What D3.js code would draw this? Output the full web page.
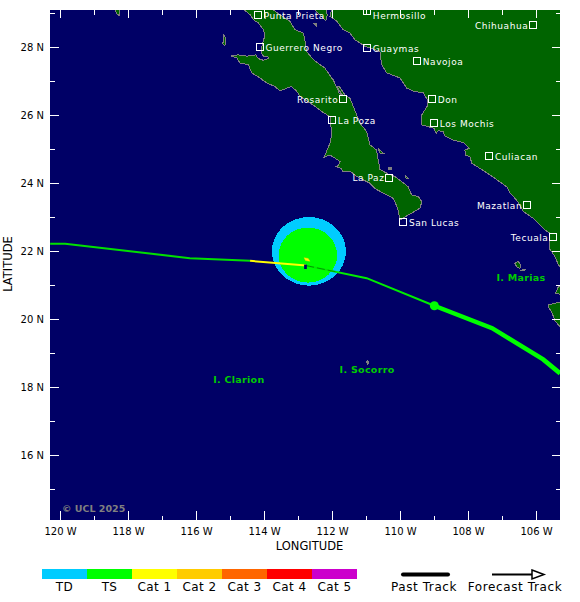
<!DOCTYPE html>
<html>
<head>
<meta charset="utf-8">
<script src="https://cdnjs.cloudflare.com/ajax/libs/d3/7.8.5/d3.min.js"></script>
<style>
    body { margin: 0; background: #fff; }
    svg { display: block; }
    text { font-family: "DejaVu Sans", sans-serif; }
</style>
</head>
<body>
<svg id="chart" width="580" height="602"></svg>
<script>
// coastlines, [lon, lat]
const baja = [[-114.58,29.09],[-114.41,28.95],[-114.31,28.80],[-114.17,28.71],[-114.02,28.51],[-113.97,28.36],[-114.02,28.17],[-114.09,27.89],[-114.05,27.77],[-113.99,27.71],[-113.89,27.73],[-113.87,27.66],[-114.02,27.61],[-114.17,27.66],[-114.24,27.77],[-114.51,27.73],[-114.76,27.77],[-114.97,27.74],[-114.80,27.68],[-114.71,27.53],[-114.46,27.48],[-114.36,27.24],[-114.12,27.09],[-113.92,26.94],[-113.68,26.84],[-113.53,26.71],[-113.19,26.84],[-113.04,26.70],[-112.94,26.55],[-112.55,26.29],[-112.30,26.10],[-112.06,25.95],[-112.03,25.66],[-112.01,25.41],[-112.06,25.17],[-112.23,24.76],[-112.06,24.82],[-111.91,24.73],[-111.76,24.63],[-111.83,24.50],[-111.89,24.48],[-111.74,24.43],[-111.67,24.33],[-111.47,24.35],[-111.27,24.19],[-110.88,23.99],[-110.74,23.84],[-110.49,23.70],[-110.20,23.55],[-110.07,23.26],[-110.00,22.91],[-109.93,22.96],[-109.66,23.11],[-109.41,23.26],[-109.36,23.45],[-109.46,23.60],[-109.66,23.65],[-109.76,23.89],[-109.95,24.04],[-110.15,24.19],[-110.34,24.26],[-110.59,24.40],[-110.64,24.68],[-110.69,24.97],[-110.88,25.12],[-110.98,25.51],[-111.18,25.76],[-111.37,26.24],[-111.47,26.49],[-111.62,26.59],[-111.79,26.85],[-111.85,26.82],[-111.68,26.56],[-111.79,26.65],[-111.96,27.03],[-112.01,27.09],[-112.21,27.38],[-112.55,27.63],[-112.75,27.87],[-112.79,28.17],[-112.84,28.41],[-113.09,28.51],[-113.24,28.76],[-113.53,28.95],[-113.73,29.09]]
const mainland = [[-112.01,29.09],[-112.06,28.90],[-111.86,28.76],[-111.67,28.51],[-111.47,28.41],[-111.32,28.21],[-111.03,28.02],[-110.59,27.87],[-110.54,27.48],[-110.39,27.24],[-110.00,27.09],[-109.80,26.79],[-109.61,26.70],[-109.31,26.65],[-109.20,26.45],[-109.20,26.26],[-109.36,26.00],[-109.36,25.71],[-109.00,25.61],[-108.94,25.46],[-108.87,25.54],[-108.73,25.51],[-108.68,25.38],[-108.43,25.26],[-108.14,25.19],[-107.96,25.02],[-108.09,24.97],[-108.07,24.82],[-107.94,24.77],[-107.89,24.58],[-107.60,24.40],[-107.21,24.14],[-106.84,23.87],[-106.76,23.70],[-106.57,23.50],[-106.37,23.16],[-106.08,22.96],[-105.74,22.62],[-105.59,22.52],[-105.61,22.08],[-105.44,21.83],[-105.34,21.59],[-105.29,21.54],[-105.29,29.09]]
const nayarit = [[-105.43,20.76],[-105.34,20.95],[-105.29,20.98],[-105.29,20.73]]
const jalisco = [[-105.64,20.41],[-105.34,20.49],[-105.29,20.49],[-105.29,19.77],[-105.44,19.94],[-105.54,20.21],[-105.64,20.36]]
const islands = [
    [[-112.50,29.09],[-112.35,28.94],[-112.18,28.77],[-112.14,28.94],[-112.18,29.09]],
    [[-106.62,21.64],[-106.52,21.69],[-106.45,21.59],[-106.47,21.49],[-106.57,21.54]],
    [[-115.18,28.35],[-115.12,28.26],[-115.15,28.03],[-115.21,28.09]],
    [[-118.38,29.09],[-118.24,29.09],[-118.24,28.91],[-118.32,28.97]],
    [[-110.64,25.02],[-110.49,24.88],[-110.59,24.88]],
    [[-109.85,24.24],[-109.74,24.12],[-109.82,24.15]]
]
const rocks = [
    [[-106.47,21.43],[-106.32,21.46],[-106.36,21.42]],
    [[-110.96,18.78],[-110.91,18.74],[-110.95,18.68],[-110.98,18.74]],
    [[-110.35,24.46],[-110.26,24.46],[-110.26,24.41],[-110.35,24.41]],
    [[-112.53,28.69],[-112.47,28.69],[-112.47,28.63]]
]

// storm track
const pastTD = [[-120.29,22.21],[-119.85,22.21],[-116.18,21.79],[-114.41,21.71]]
const pastCat1 = [[-114.41,21.71],[-112.76,21.57]]
const forecastThin = [[-112.76,21.57],[-110.98,21.20],[-108.99,20.39]]
const forecastThick = [[-108.99,20.39],[-107.29,19.73],[-105.79,18.81],[-105.29,18.40]]
const turnPoint = [-108.99, 20.39]
const innerDash = [[-112.76,21.57],[-111.85,21.38]]
const yellowBlob = [[-112.82,21.80],[-112.70,21.78],[-112.65,21.70],[-112.78,21.72]]
const stormMark = [[-112.82,21.60],[-112.74,21.60],[-112.74,21.47],[-112.82,21.47]]

// wind radii, degrees
const tdCircle = {lon: -112.68, lat: 21.99, rLon: 1.09, rLat: 1.01}
const tsCircle = {lon: -112.71, lat: 21.88, rLon: 0.86, rLat: 0.81}

const cityNames = ["Punta Prieta", "Hermosillo", "Chihuahua", "Guerrero Negro", "Guaymas", "Navojoa", "Rosarito", "Don", "La Poza", "Los Mochis", "Culiacan", "La Paz", "Mazatlan", "San Lucas", "Tecuala"]
const cityLon = [-114.17, -110.96, -106.08, -114.12, -110.96, -109.49, -111.67, -109.05, -111.99, -108.99, -107.37, -110.31, -106.26, -109.90, -105.49]
const cityLat = [28.93, 29.06, 28.64, 27.99, 27.96, 27.58, 26.47, 26.47, 25.84, 25.76, 24.79, 24.15, 23.34, 22.85, 22.40]
const citySide = ["r", "r", "l", "r", "r", "r", "l", "r", "r", "r", "r", "l", "l", "r", "l"]

const islandNames = ["I. Clarion", "I. Socorro", "I. Marias"]
const islandLon = [-114.74, -110.97, -106.44]
const islandLat = [18.21, 18.50, 21.21]

const lonMajor = [-120, -118, -116, -114, -112, -110, -108, -106]
const lonMinor = [-119, -117, -115, -113, -111, -109, -107]
const latMajor = [16, 18, 20, 22, 24, 26, 28]
const latMinor = [15, 17, 19, 21, 23, 25, 27, 29]

const legendNames = ["TD", "TS", "Cat 1", "Cat 2", "Cat 3", "Cat 4", "Cat 5"]
const legendColors = ["#00ccff", "#00ff00", "#ffff00", "#ffcc00", "#ff6600", "#ff0000", "#cc00cc"]

const svg = d3.select("#chart")

const x = d3.scaleLinear().domain([-120.294, -105.294]).range([50, 560])
const y = d3.scaleLinear().domain([14.088, 29.088]).range([520, 10])
const line = d3.line().x(d => x(d[0])).y(d => y(d[1]))

svg.append("clipPath").attr("id", "frame")
    .append("rect").attr("x", 50).attr("y", 10).attr("width", 510).attr("height", 510)

const map = svg.append("g").attr("clip-path", "url(#frame)")

map.append("rect").attr("x", 50).attr("y", 10).attr("width", 510).attr("height", 510)
    .attr("fill", "#000066")

// land
map.selectAll("path.land")
    .data([baja, mainland, nayarit, jalisco, ...islands])
    .enter().append("path")
    .attr("class", "land")
    .attr("d", d => line(d) + "Z")
    .attr("fill", "#006400")
    .attr("stroke", "#808080")
    .attr("stroke-width", 1)
    .attr("shape-rendering", "crispEdges")

map.selectAll("path.rock")
    .data(rocks)
    .enter().append("path")
    .attr("class", "rock")
    .attr("d", d => line(d) + "Z")
    .attr("fill", "#808080")
    .attr("stroke", "#808080")
    .attr("shape-rendering", "crispEdges")

// wind field
map.selectAll("ellipse")
    .data([[tdCircle, "#00ccff"], [tsCircle, "#00ff00"]])
    .enter().append("ellipse")
    .attr("cx", d => x(d[0].lon))
    .attr("cy", d => y(d[0].lat))
    .attr("rx", d => x(d[0].lon + d[0].rLon) - x(d[0].lon))
    .attr("ry", d => y(d[0].lat - d[0].rLat) - y(d[0].lat))
    .attr("fill", d => d[1])
    .attr("shape-rendering", "crispEdges")

// track
function drawTrack(points, color, width, dash) {
    map.append("path")
        .attr("d", line(points))
        .attr("fill", "none")
        .attr("stroke", color)
        .attr("stroke-width", width)
        .attr("stroke-dasharray", dash || null)
}
drawTrack(pastTD, "#00e000", 2)
drawTrack(pastCat1, "#ffff00", 2)
drawTrack(forecastThin, "#00ee00", 2)
drawTrack(forecastThick, "#00ff00", 4.5)
drawTrack(innerDash, "#009900", 1, "8,3")

map.append("circle")
    .attr("cx", x(turnPoint[0]))
    .attr("cy", y(turnPoint[1]))
    .attr("r", 4.5)
    .attr("fill", "#00ff00")

map.append("path").attr("d", line(yellowBlob) + "Z").attr("fill", "#ffff00").attr("stroke", "#ffcc00").attr("stroke-width", 0.5)
map.append("path").attr("d", line(stormMark) + "Z").attr("fill", "#000066")

// cities
cityNames.forEach((name, i) => {
    const cx = x(cityLon[i])
    const cy = y(cityLat[i])
    map.append("rect")
        .attr("x", Math.round(cx) - 3.5)
        .attr("y", Math.round(cy) - 3.5)
        .attr("width", 7)
        .attr("height", 7)
        .attr("fill", "none")
        .attr("stroke", "#fff")
        .attr("stroke-width", 1)
        .attr("shape-rendering", "crispEdges")
    map.append("text")
        .attr("x", citySide[i] == "r" ? cx + 5.5 : cx - 5)
        .attr("y", Math.max(cy, 15) + 3.5)
        .attr("text-anchor", citySide[i] == "r" ? "start" : "end")
        .attr("fill", "#fff")
        .style("font-size", "9px")
        .style("letter-spacing", "0.55px")
        .text(name)
})

islandNames.forEach((name, i) => {
    map.append("text")
        .attr("x", x(islandLon[i]))
        .attr("y", y(islandLat[i]) + 3.5)
        .attr("text-anchor", "middle")
        .attr("fill", "#00cc00")
        .style("font-size", "9.5px")
        .style("font-weight", "bold")
        .style("letter-spacing", "0.3px")
        .text(name)
})

map.append("text")
    .attr("x", 62)
    .attr("y", 511.5)
    .attr("fill", "#808080")
    .style("font-size", "9.5px")
    .style("font-weight", "bold")
    .text("© UCL 2025")

// axes, ticks point into the map
function styleAxis(g) {
    g.select(".domain").remove()
    g.selectAll("line").attr("stroke", "#fff").attr("shape-rendering", "crispEdges")
    g.selectAll("text").attr("fill", "#000").style("font-size", "10px").style("font-family", "DejaVu Sans")
}
const lonLabel = d => Math.abs(d) + " W"
const latLabel = d => d + " N"

svg.append("g").attr("transform", "translate(0,520)")
    .call(d3.axisBottom(x).tickValues(lonMajor).tickFormat(lonLabel).tickSizeInner(-9).tickSizeOuter(0).tickPadding(5))
    .call(styleAxis)
svg.append("g").attr("transform", "translate(0,520)")
    .call(d3.axisBottom(x).tickValues(lonMinor).tickFormat("").tickSizeInner(-4).tickSizeOuter(0))
    .call(styleAxis)
svg.append("g").attr("transform", "translate(0,10)")
    .call(d3.axisTop(x).tickValues(lonMajor).tickFormat("").tickSizeInner(-8).tickSizeOuter(0))
    .call(styleAxis)
svg.append("g").attr("transform", "translate(0,10)")
    .call(d3.axisTop(x).tickValues(lonMinor).tickFormat("").tickSizeInner(-5).tickSizeOuter(0))
    .call(styleAxis)
svg.append("g").attr("transform", "translate(50,0)")
    .call(d3.axisLeft(y).tickValues(latMajor).tickFormat(latLabel).tickSizeInner(-9).tickSizeOuter(0).tickPadding(6))
    .call(styleAxis)
svg.append("g").attr("transform", "translate(50,0)")
    .call(d3.axisLeft(y).tickValues(latMinor).tickFormat("").tickSizeInner(-5).tickSizeOuter(0))
    .call(styleAxis)
svg.append("g").attr("transform", "translate(560,0)")
    .call(d3.axisRight(y).tickValues(latMajor).tickFormat("").tickSizeInner(-8).tickSizeOuter(0))
    .call(styleAxis)
svg.append("g").attr("transform", "translate(560,0)")
    .call(d3.axisRight(y).tickValues(latMinor).tickFormat("").tickSizeInner(-4).tickSizeOuter(0))
    .call(styleAxis)

svg.selectAll("g.tick text").filter(function() { return this.getAttribute("y") && +this.getAttribute("y") > 0 })
    .attr("dy", "1em")

svg.append("text")
    .attr("x", 309.5)
    .attr("y", 550)
    .attr("text-anchor", "middle")
    .style("font-size", "11.5px")
    .text("LONGITUDE")
svg.append("text")
    .attr("transform", "translate(12,264) rotate(-90)")
    .attr("text-anchor", "middle")
    .style("font-size", "11.5px")
    .text("LATITUDE")

// legend
const legendX = d3.scaleBand().domain(legendNames).range([42, 357])
svg.selectAll("rect.key")
    .data(legendNames)
    .enter().append("rect")
    .attr("class", "key")
    .attr("x", d => legendX(d))
    .attr("y", 569)
    .attr("width", legendX.bandwidth())
    .attr("height", 10)
    .attr("fill", (d, i) => legendColors[i])
svg.selectAll("text.key")
    .data(legendNames)
    .enter().append("text")
    .attr("class", "key")
    .attr("x", d => legendX(d) + legendX.bandwidth() / 2)
    .attr("y", 591)
    .attr("text-anchor", "middle")
    .style("font-size", "12px")
    .style("letter-spacing", "0.4px")
    .text(d => d)

svg.append("line")
    .attr("x1", 403).attr("x2", 448).attr("y1", 574.5).attr("y2", 574.5)
    .attr("stroke", "#000").attr("stroke-width", 4).attr("stroke-linecap", "round")
svg.append("text").attr("x", 424).attr("y", 591).attr("text-anchor", "middle")
    .style("font-size", "12px").style("letter-spacing", "0.6px").text("Past Track")

svg.append("line")
    .attr("x1", 492).attr("x2", 533).attr("y1", 574.5).attr("y2", 574.5)
    .attr("stroke", "#000").attr("stroke-width", 2)
svg.append("path")
    .attr("d", "M532,570 L544,574.5 L532,579 Z")
    .attr("fill", "#fff").attr("stroke", "#000").attr("stroke-width", 1.5)
svg.append("text").attr("x", 515).attr("y", 591).attr("text-anchor", "middle")
    .style("font-size", "12px").style("letter-spacing", "0.6px").text("Forecast Track")
</script>
</body>
</html>
